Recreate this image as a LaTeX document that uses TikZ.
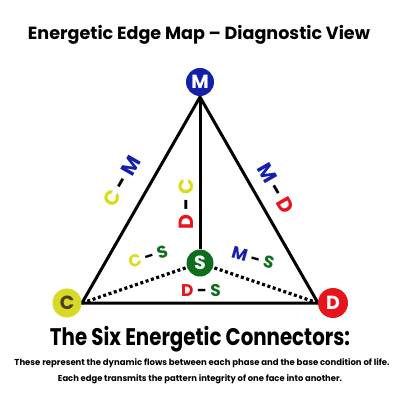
\documentclass[tikz,border=0pt]{standalone}
\usepackage{fontspec}
\usepackage{graphicx}
\setmainfont{Poppins}
\definecolor{cyel}{HTML}{DCDC1E}
\definecolor{cyelfill}{HTML}{D8D826}
\definecolor{cbrown}{HTML}{4A3E1C}
\definecolor{mblue}{HTML}{1420A8}
\definecolor{dred}{HTML}{E8141C}
\definecolor{sgreen}{HTML}{0E6E1E}
\begin{document}
\begin{tikzpicture}[x=1pt,y=-1pt,
  edge/.style={line width=3pt,black},
  dotline/.style={line width=3.2pt,black,dash pattern=on 3pt off 2.6pt},
  vert/.style={circle,minimum size=28pt,inner sep=0pt,font=\bfseries\fontsize{19}{19}\selectfont},
  lbl/.style={font=\bfseries\fontsize{20.5}{20.5}\selectfont,inner sep=0pt},
  slbl/.style={font=\bfseries\fontsize{17}{17}\selectfont,inner sep=0pt}]
\useasboundingbox (0,0) rectangle (400,400);
\fill[white] (0,0) rectangle (400,400);
\node[font=\bfseries\fontsize{17.6}{17.6}\selectfont,inner sep=0pt] (title) at (199,35) {\resizebox{342pt}{\height}{Energetic Edge Map – Diagnostic View}};
\coordinate (apex) at (200,97);
\coordinate (cl) at (82,303);
\coordinate (cr) at (318,303);
\node[vert,fill=sgreen,text=white,minimum size=27pt] (S) at (200,263) {S};
\draw[edge] (apex) -- (cl) -- (cr) -- cycle;
\draw[edge] (apex) -- (S);
\draw[dotline] (cl) -- (S);
\draw[dotline] (cr) -- (S);
\node[vert,fill=mblue,text=white] (M) at (200,82) {M};
\node[vert,fill=cyelfill,text=cbrown,minimum size=29pt] (C) at (67,303) {C};
\node[vert,fill=dred,text=white,minimum size=30pt] (D) at (333,303) {D};
\node[lbl,rotate=60] (cm) at (122,181) {\textcolor{cyel}{C} - \textcolor{mblue}{M}};
\node[lbl,rotate=-60] (md) at (276,188) {\textcolor{mblue}{M} - \textcolor{dred}{D}};
\node[lbl,rotate=90] (dc) at (186,204) {\textcolor{dred}{D} - \textcolor{cyel}{C}};
\node[slbl,rotate=18] (cs) at (148,257) {\textcolor{cyel}{C} - \textcolor{sgreen}{S}};
\node[slbl,rotate=-16] (ms) at (253,258) {\textcolor{mblue}{M} - \textcolor{sgreen}{S}};
\node[slbl] (ds) at (201,291) {\textcolor{dred}{D} - \textcolor{sgreen}{S}};
\node[font=\bfseries\fontsize{24}{24}\selectfont,inner sep=0pt] (head) at (200,339) {\resizebox{300pt}{\height}{The Six Energetic Connectors:}};
\node[font=\bfseries\fontsize{8.6}{8.6}\selectfont,inner sep=0pt] (l1) at (202,363) {\resizebox{375pt}{\height}{These represent the dynamic flows between each phase and the base condition of life.}};
\node[font=\bfseries\fontsize{8.6}{8.6}\selectfont,inner sep=0pt] (l2) at (200,379) {\resizebox{284pt}{\height}{Each edge transmits the pattern integrity of one face into another.}};
\end{tikzpicture}
\end{document}
